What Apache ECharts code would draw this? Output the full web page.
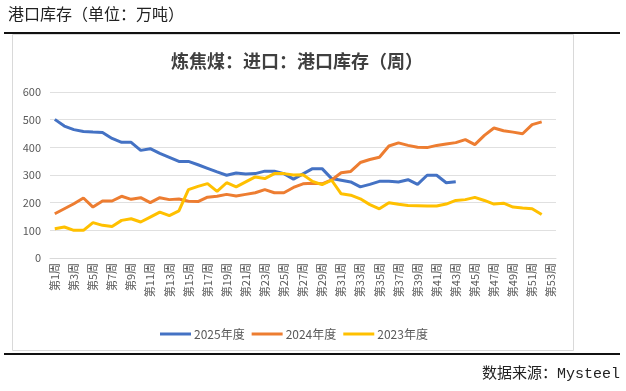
<!DOCTYPE html>
<html>
<head>
<meta charset="utf-8">
<script src="https://cdn.jsdelivr.net/npm/echarts@6/dist/echarts.min.js"></script>
<style>
html,body{margin:0;padding:0;background:#fff;}
#chart{width:626px;height:391px;}
</style>
</head>
<body>
<div id="chart"></div>
<script>
const weeks = ['第1周','第2周','第3周','第4周','第5周','第6周','第7周','第8周','第9周','第10周',
'第11周','第12周','第13周','第14周','第15周','第16周','第17周','第18周','第19周','第20周',
'第21周','第22周','第23周','第24周','第25周','第26周','第27周','第28周','第29周','第30周',
'第31周','第32周','第33周','第34周','第35周','第36周','第37周','第38周','第39周','第40周',
'第41周','第42周','第43周','第44周','第45周','第46周','第47周','第48周','第49周','第50周',
'第51周','第52周','第53周'];

const seriesNames = ['2025年度','2024年度','2023年度'];

const y2025 = [501,477,464,457,455,454,432,418,418,389,395,378,364,349,349,337,324,311,299,307,
304,305,314,314,305,285,304,323,323,287,281,275,257,266,277,277,275,283,266,299,299,272,276];

const y2024 = [160,178,196,217,184,206,206,223,212,218,200,218,211,213,205,204,220,223,230,224,
230,236,247,236,236,255,268,270,268,282,308,313,345,356,364,405,416,407,400,399,407,412,417,428,
410,443,470,460,455,449,482,492];

const y2023 = [106,112,100,100,128,118,114,136,142,130,148,166,153,170,247,259,269,241,272,257,
275,293,287,305,305,300,301,277,265,281,232,227,214,193,178,200,194,190,189,188,188,195,208,211,
219,208,195,198,184,181,178,157];

const yTicks = {min: 0, max: 600, interval: 100};

const colors = ['#4472C4','#ED7D31','#FFC000'];

const chart = echarts.init(document.getElementById('chart'), null, {renderer:'canvas'});
const cjk = '"Noto Sans CJK SC", "Noto Sans", sans-serif';
const option = {
  animation: false,
  backgroundColor: '#fff',
  color: colors,
  title: {
    text: '炼焦煤：进口：港口库存（周）',
    left: 292, textAlign: 'center', top: 47,
    textStyle: {fontFamily: cjk, fontSize: 18, fontWeight: 'bold', color: '#404040'}
  },
  legend: {
    data: seriesNames,
    left: 155, top: 323,
    icon: 'rect', itemWidth: 31, itemHeight: 3, itemGap: 7,
    textStyle: {fontFamily: cjk, fontSize: 12, color: '#595959', padding: [0,0,0,-2]}
  },
  grid: {left: 50, top: 92, width: 506, height: 166, containLabel: false},
  xAxis: {
    type: 'category', data: weeks, boundaryGap: true,
    axisLine: {lineStyle: {color: '#D9D9D9'}},
    axisTick: {show: false},
    axisLabel: {interval: 1, rotate: 90, margin: 5, fontFamily: cjk, fontSize: 11, color: '#595959'}
  },
  yAxis: {
    type: 'value', min: yTicks.min, max: yTicks.max, interval: yTicks.interval,
    axisLine: {show: false}, axisTick: {show: false},
    splitLine: {lineStyle: {color: '#E0E0E0'}},
    axisLabel: {margin: 9, fontFamily: cjk, fontSize: 11, color: '#595959'}
  },
  series: [
    {name: seriesNames[0], type: 'line', data: y2025, symbol: 'none', lineStyle: {width: 3}, z: 2},
    {name: seriesNames[1], type: 'line', data: y2024, symbol: 'none', lineStyle: {width: 3}, z: 3},
    {name: seriesNames[2], type: 'line', data: y2023, symbol: 'none', lineStyle: {width: 3}, z: 4}
  ],
  graphic: [
    {type: 'text', left: 8, top: 6, style: {text: '港口库存（单位：万吨）', font: '16px "Noto Sans CJK SC"', fill: '#222'}},
    {type: 'rect', shape: {x: 4, y: 32, width: 616, height: 2}, style: {fill: '#111'}},
    {type: 'rect', shape: {x: 12.5, y: 34.5, width: 561, height: 316}, style: {fill: 'none', stroke: '#D9D9D9', lineWidth: 1}},
    {type: 'rect', shape: {x: 4, y: 353, width: 616, height: 2}, style: {fill: '#111'}},
    {type: 'text', right: 6, top: 367, style: {text: '数据来源：Mysteel', font: '15px "Liberation Mono", "Noto Sans CJK SC"', fill: '#222'}}
  ]
};
chart.setOption(option);
</script>
</body>
</html>
